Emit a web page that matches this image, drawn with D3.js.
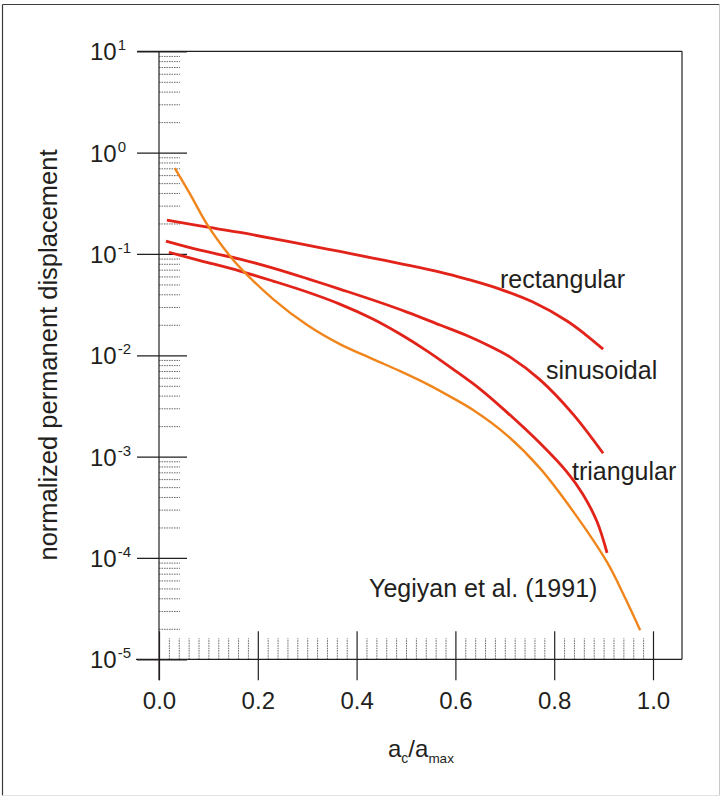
<!DOCTYPE html>
<html>
<head>
<meta charset="utf-8">
<script src="https://cdn.jsdelivr.net/npm/d3@7"></script>
<style>
  html, body { margin: 0; padding: 0; background: #fff; }
  svg { display: block; font-family: "Liberation Sans", Arial, sans-serif; }
</style>
</head>
<body>
<svg id="chart" width="721" height="797"></svg>
<script>
// Critical acceleration ratio (a_c / a_max) and normalized displacement for each curve
const rectX = [0.016, 0.083, 0.164, 0.231, 0.300, 0.366, 0.433, 0.488, 0.569, 0.623, 0.690, 0.757, 0.826, 0.862, 0.899];
const rectY = [0.216, 0.189, 0.163, 0.142, 0.122, 0.106, 0.0911, 0.0804, 0.0663, 0.0565, 0.0450, 0.0335, 0.0218, 0.0162, 0.0115];

const sinX = [0.014, 0.083, 0.164, 0.231, 0.300, 0.366, 0.433, 0.502, 0.569, 0.623, 0.670, 0.711, 0.771, 0.838, 0.899];
const sinY = [0.134, 0.109, 0.0891, 0.0726, 0.0572, 0.0450, 0.0351, 0.0267, 0.0199, 0.0157, 0.0123, 0.00960, 0.00575, 0.00263, 0.00108];

const triX = [0.020, 0.083, 0.164, 0.231, 0.300, 0.366, 0.433, 0.488, 0.543, 0.595, 0.650, 0.704, 0.771, 0.826, 0.858, 0.887, 0.907];
const triY = [0.104, 0.0861, 0.0678, 0.0540, 0.0421, 0.0320, 0.0228, 0.0162, 0.0110, 0.00731, 0.00464, 0.00275, 0.00136, 0.000703, 0.000426, 0.000226, 0.000112];

const yegX = [0.032, 0.063, 0.097, 0.142, 0.164, 0.231, 0.300, 0.366, 0.433, 0.488, 0.543, 0.595, 0.636, 0.704, 0.771, 0.838, 0.907, 0.941, 0.974];
const yegY = [0.705, 0.390, 0.197, 0.0975, 0.0734, 0.0359, 0.0199, 0.0129, 0.00917, 0.00698, 0.00520, 0.00378, 0.00288, 0.00163, 0.000770, 0.000290, 0.0000909, 0.0000429, 0.0000194];

// Axis ticks
const xTickValues = [0, 0.2, 0.4, 0.6, 0.8, 1.0];
const xTickLabels = ["0.0", "0.2", "0.4", "0.6", "0.8", "1.0"];
const yExponents = [1, 0, -1, -2, -3, -4, -5];
const yExpLabels = ["1", "0", "-1", "-2", "-3", "-4", "-5"];

// Curve labels
const curveNames = ["rectangular", "sinusoidal", "triangular", "Yegiyan et al. (1991)"];

const svg = d3.select("#chart");
const ink = "#231f20";
const red = "#e2231a";
const orange = "#f0851c";

// Plot frame
const plotLeft = 159, plotRight = 682, plotTop = 51.3, plotBottom = 659.3;
const x = d3.scaleLinear().domain([0, 1]).range([plotLeft, 653]);
const y = d3.scaleLog().domain([1e-5, 10]).range([plotBottom, plotTop]);

// Outer border of the figure
svg.append("line").attr("x1", 2.5).attr("y1", 4.5).attr("x2", 719.5).attr("y2", 4.5).attr("stroke", "#3c3c3c").attr("stroke-width", 1.2);
svg.append("line").attr("x1", 2.5).attr("y1", 4.5).attr("x2", 2.5).attr("y2", 795.5).attr("stroke", "#3c3c3c").attr("stroke-width", 1.2);
svg.append("line").attr("x1", 719.5).attr("y1", 4.5).attr("x2", 719.5).attr("y2", 795.5).attr("stroke", "#c9c9c9").attr("stroke-width", 1);
svg.append("line").attr("x1", 2.5).attr("y1", 795.5).attr("x2", 719.5).attr("y2", 795.5).attr("stroke", "#e3e3e3").attr("stroke-width", 1);

// Minor y ticks (dotted, inside)
const yMinor = [];
for (let e = -5; e < 1; e++) for (let k = 2; k <= 9; k++) yMinor.push(k * Math.pow(10, e));
svg.append("g")
  .attr("transform", `translate(${plotLeft},0)`)
  .call(d3.axisRight(y).tickValues(yMinor).tickSize(21).tickFormat(() => ""))
  .call(g => g.select(".domain").remove())
  .call(g => g.selectAll(".tick line")
    .attr("stroke", "#6d6d6d").attr("stroke-width", 1).attr("stroke-dasharray", "1.6,0.9"));

// Minor x ticks (dotted, inside)
const xMinor = d3.range(1, 50).map(i => i * 0.02).filter(v => Math.abs(v * 5 - Math.round(v * 5)) > 1e-6);
svg.append("g")
  .attr("transform", `translate(0,${plotBottom})`)
  .call(d3.axisTop(x).tickValues(xMinor).tickSize(21).tickFormat(() => ""))
  .call(g => g.select(".domain").remove())
  .call(g => g.selectAll(".tick line")
    .attr("stroke", "#6d6d6d").attr("stroke-width", 1).attr("stroke-dasharray", "1.6,0.9"));

// Frame lines
svg.append("line").attr("x1", 137).attr("x2", plotRight).attr("y1", plotTop).attr("y2", plotTop).attr("stroke", ink).attr("stroke-width", 1.2);
svg.append("line").attr("x1", plotRight).attr("x2", plotRight).attr("y1", plotTop).attr("y2", plotBottom).attr("stroke", ink).attr("stroke-width", 1.2);

// Major y axis
const yAxis = svg.append("g")
  .attr("transform", `translate(${plotLeft},0)`)
  .call(d3.axisLeft(y).tickValues(yExponents.map(e => Math.pow(10, e))).tickSize(22).tickFormat(() => ""));
yAxis.select(".domain").attr("d", `M0,${plotTop}V${plotBottom + 21}`).attr("stroke", ink).attr("stroke-width", 1.2);
yAxis.selectAll(".tick line").attr("x1", 28).attr("x2", -22).attr("stroke", ink).attr("stroke-width", 1.2);
yAxis.selectAll(".tick text").remove();
yAxis.selectAll(".tick").each(function(d, i) {
  const t = d3.select(this).append("text")
    .attr("x", 90 - plotLeft).attr("y", 0).attr("dy", "0.36em")
    .attr("text-anchor", "start").attr("fill", ink)
    .style("font-size", "24px");
  t.append("tspan").text("10");
  t.append("tspan").attr("dx", 1).attr("dy", -10).style("font-size", "15px").text(yExpLabels[i]);
});

// Major x axis
const xAxis = svg.append("g")
  .attr("transform", `translate(0,${plotBottom})`)
  .call(d3.axisBottom(x).tickValues(xTickValues).tickSize(21).tickFormat((d, i) => xTickLabels[i]));
xAxis.select(".domain").attr("d", `M136,0H${plotRight}`).attr("stroke", ink).attr("stroke-width", 1.2);
xAxis.selectAll(".tick line").attr("y1", -28).attr("y2", 21).attr("stroke", ink).attr("stroke-width", 1.2);
xAxis.selectAll(".tick text")
  .attr("y", 50).attr("dy", 0).attr("fill", ink)
  .style("font-size", "24px").style("font-family", "'Liberation Sans', Arial, sans-serif");

// Curves
const line = d3.line().x(d => x(d[0])).y(d => y(d[1])).curve(d3.curveCatmullRom.alpha(0.5));
const series = [
  { xs: rectX, ys: rectY, color: red, w: 2.8 },
  { xs: sinX, ys: sinY, color: red, w: 2.8 },
  { xs: triX, ys: triY, color: red, w: 2.8 },
  { xs: yegX, ys: yegY, color: orange, w: 2.4 }
];
svg.append("g").selectAll("path")
  .data(series)
  .join("path")
  .attr("d", s => line(s.xs.map((v, i) => [v, s.ys[i]])))
  .attr("fill", "none")
  .attr("stroke", s => s.color)
  .attr("stroke-width", s => s.w)
  .attr("stroke-linecap", "butt");

// Curve labels
const labelPos = [[500, 288], [546, 379], [572, 480], [369, 597]];
svg.append("g").selectAll("text")
  .data(curveNames)
  .join("text")
  .attr("x", (d, i) => labelPos[i][0])
  .attr("y", (d, i) => labelPos[i][1])
  .attr("fill", ink)
  .style("font-size", "25px")
  .text(d => d);

// Axis titles
const xt = svg.append("text").attr("x", 388).attr("y", 757).attr("fill", ink).style("font-size", "24px");
xt.append("tspan").text("a");
xt.append("tspan").attr("dy", 6).style("font-size", "14px").text("c");
xt.append("tspan").attr("dy", -6).text("/a");
xt.append("tspan").attr("dy", 6).style("font-size", "13.5px").text("max");

svg.append("text")
  .attr("transform", "translate(57,355) rotate(-90)")
  .attr("text-anchor", "middle")
  .attr("fill", ink)
  .style("font-size", "25.5px")
  .text("normalized permanent displacement");
</script>
</body>
</html>
